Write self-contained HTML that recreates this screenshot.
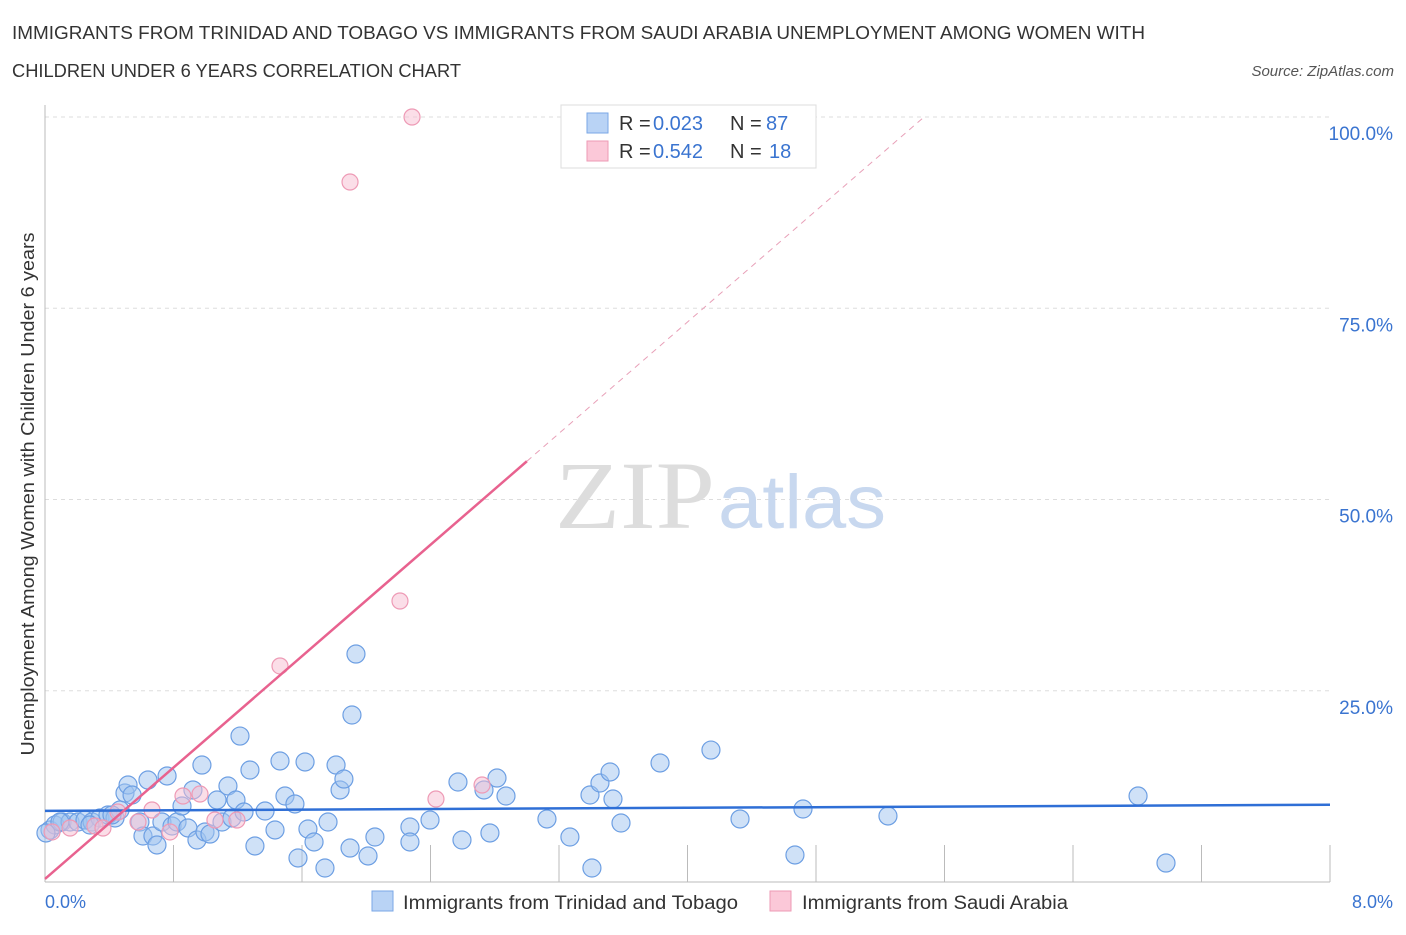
<!DOCTYPE html>
<html><head><meta charset="utf-8"><style>
body{margin:0;background:#fff;font-family:"Liberation Sans",sans-serif;}
</style></head><body>
<svg width="1406" height="930" xmlns="http://www.w3.org/2000/svg">
<text x="12" y="39" font-size="18" fill="#333" textLength="1133" lengthAdjust="spacingAndGlyphs">IMMIGRANTS FROM TRINIDAD AND TOBAGO VS IMMIGRANTS FROM SAUDI ARABIA UNEMPLOYMENT AMONG WOMEN WITH</text>
<text x="12" y="77" font-size="18" fill="#333" textLength="449" lengthAdjust="spacingAndGlyphs">CHILDREN UNDER 6 YEARS CORRELATION CHART</text>
<text x="1394" y="76" font-size="15" fill="#555" font-style="italic" text-anchor="end">Source: ZipAtlas.com</text>
<g id="grid"></g>
<text x="555" y="528" font-size="96" fill="#ddd" font-family="Liberation Serif" textLength="160" lengthAdjust="spacingAndGlyphs">ZIP</text>
<text x="718" y="528" font-size="76" fill="#c8d8ef" textLength="168" lengthAdjust="spacingAndGlyphs">atlas</text>
<g id="marks"></g>
<text transform="translate(34,494) rotate(-90)" font-size="18" fill="#333" text-anchor="middle" textLength="523" lengthAdjust="spacingAndGlyphs">Unemployment Among Women with Children Under 6 years</text>
<text x="45" y="908" font-size="18" fill="#3a74d0">0.0%</text>
<text x="1393" y="908" font-size="18" fill="#3a74d0" text-anchor="end">8.0%</text>
<g>
<rect x="561" y="105" width="255" height="63" fill="#fff" stroke="#ddd"/>
<rect x="587" y="113" width="21" height="20" fill="#b9d3f5" stroke="#7aa7e6"/>
<rect x="587" y="141" width="21" height="20" fill="#fbc8d8" stroke="#ee9ab5"/>
<text x="619" y="130" font-size="20" fill="#333">R =</text>
<text x="653" y="130" font-size="20" fill="#3a74d0">0.023</text>
<text x="730" y="130" font-size="20" fill="#333">N =</text>
<text x="766" y="130" font-size="20" fill="#3a74d0">87</text>
<text x="619" y="158" font-size="20" fill="#333">R =</text>
<text x="653" y="158" font-size="20" fill="#3a74d0">0.542</text>
<text x="730" y="158" font-size="20" fill="#333">N =</text>
<text x="769" y="158" font-size="20" fill="#3a74d0">18</text>
</g>
<g>
<rect x="372" y="891" width="21" height="20" fill="#b9d3f5" stroke="#7aa7e6"/>
<text x="403" y="909" font-size="19" fill="#333" textLength="335" lengthAdjust="spacingAndGlyphs">Immigrants from Trinidad and Tobago</text>
<rect x="770" y="891" width="21" height="20" fill="#fbc8d8" stroke="#ee9ab5"/>
<text x="802" y="909" font-size="19" fill="#333" textLength="266" lengthAdjust="spacingAndGlyphs">Immigrants from Saudi Arabia</text>
</g>
</svg>
<script>
const bluePx=[[50,830],[55,825],[62,822],[70,822],[78,822],[85,820],[92,822],[100,818],[108,815],[115,818],[120,810],[125,793],[128,785],[132,795],[140,822],[143,836],[148,780],[153,836],[157,845],[162,822],[167,776],[172,826],[177,822],[182,806],[188,828],[193,790],[197,840],[202,765],[205,832],[210,834],[217,800],[222,822],[228,786],[232,818],[236,800],[240,736],[244,812],[250,770],[255,846],[265,811],[275,830],[280,761],[285,796],[295,804],[298,858],[305,762],[308,829],[314,842],[325,868],[328,822],[336,765],[340,790],[344,779],[350,848],[356,654],[352,715],[368,856],[375,837],[410,827],[410,842],[430,820],[458,782],[462,840],[484,790],[490,833],[497,778],[506,796],[547,819],[570,837],[590,795],[592,868],[600,783],[610,772],[613,799],[621,823],[660,763],[711,750],[740,819],[795,855],[803,809],[888,816],[1138,796],[1166,863],[60,822],[46,833],[112,815],[90,825]];
const pinkPx=[[52,832],[70,828],[95,826],[103,828],[118,812],[138,822],[152,810],[170,832],[183,796],[200,794],[215,820],[237,820],[280,666],[400,601],[350,182],[412,117],[436,799],[482,785]];
const blueX=bluePx.map(p=>+((p[0]-45)/1285*8).toFixed(3));
const blueY=bluePx.map(p=>+((882-p[1])/765*100).toFixed(2));
const pinkX=pinkPx.map(p=>+((p[0]-45)/1285*8).toFixed(3));
const pinkY=pinkPx.map(p=>+((882-p[1])/765*100).toFixed(2));
const yTicks=[25,50,75,100];
const yTickLabels=["25.0%","50.0%","75.0%","100.0%"];
const xTicks=[0.8,1.6,2.4,3.2,4.0,4.8,5.6,6.4,7.2,8.0];
const blueTrend=[9.3,10.1];
const pinkTrend=[0.4,18.2];
const sx=v=>45+v/8*1285, sy=v=>882-v/100*765;
const NS="http://www.w3.org/2000/svg";
function mk(t,a,p){const e=document.createElementNS(NS,t);for(const k in a)e.setAttribute(k,a[k]);p.appendChild(e);return e;}
const g=document.getElementById('grid'), m=document.getElementById('marks');
yTicks.forEach((t,i)=>{
 const l=mk('line',{x1:45,x2:1330,y1:sy(t),y2:sy(t),stroke:'#ddd','stroke-dasharray':'4,4'},g);
 
 
 const tx=mk('text',{x:1393,y:sy(t)+23,'font-size':19,fill:'#3a74d0','text-anchor':'end'},g);
 tx.textContent=yTickLabels[i];
 
 
});
const ax=mk('line',{x1:45,x2:1330,y1:882,y2:882,stroke:'#bbb'},g);


const ay=mk('line',{x1:45,x2:45,y1:105,y2:882,stroke:'#bbb'},g);


xTicks.forEach(t=>{
 const l=mk('line',{x1:sx(t),x2:sx(t),y1:845,y2:882,stroke:'#bbb'},g);
 
 
});
blueX.forEach((x,i)=>{
 const c=mk('circle',{cx:sx(x),cy:sy(blueY[i]),r:9,fill:'rgba(160,196,240,0.5)',stroke:'#6d9fe3','stroke-width':1.2},m);
 
 
});
pinkX.forEach((x,i)=>{
 const c=mk('circle',{cx:sx(x),cy:sy(pinkY[i]),r:8,fill:'rgba(248,190,210,0.5)',stroke:'#ee9ab5','stroke-width':1.2},m);
 
 
});
const bl=mk('line',{x1:sx(0),x2:sx(8),y1:sy(blueTrend[0]),y2:sy(blueTrend[1]),stroke:'#2f6fd6','stroke-width':2.5},m);


const xe=3.0, xend=(100-pinkTrend[0])/pinkTrend[1];
const pl=mk('line',{x1:sx(0),x2:sx(xe),y1:sy(pinkTrend[0]),y2:sy(pinkTrend[0]+pinkTrend[1]*xe),stroke:'#e8628f','stroke-width':2.5},m);


const pd=mk('line',{x1:sx(xe),x2:sx(xend),y1:sy(pinkTrend[0]+pinkTrend[1]*xe),y2:sy(100),stroke:'#e8a0b8','stroke-width':1,'stroke-dasharray':'6,5'},m);


</script>
</body></html>
